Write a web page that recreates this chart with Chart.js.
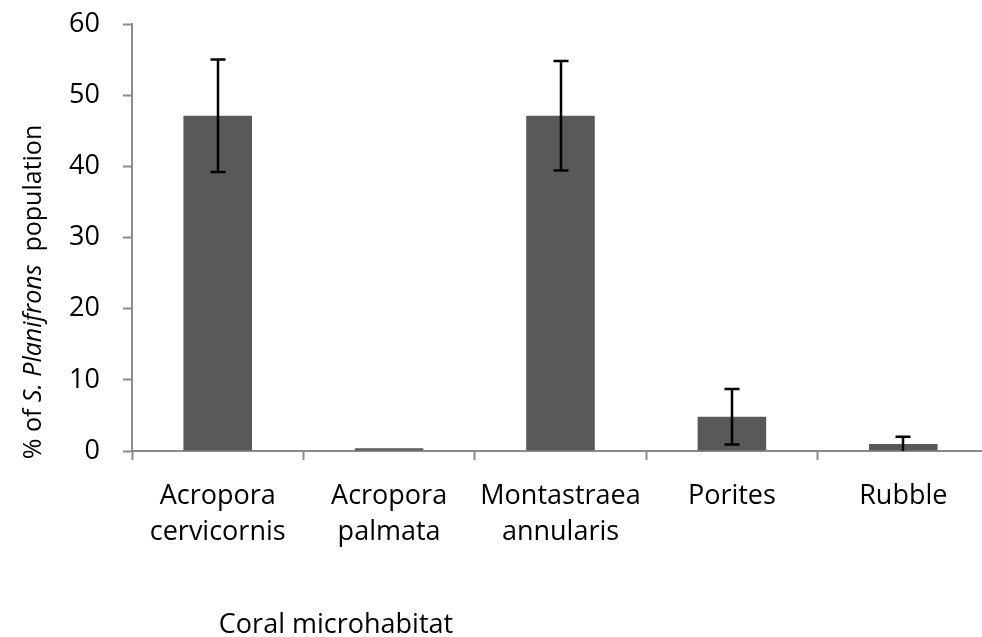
<!DOCTYPE html>
<html>
<head>
<meta charset="utf-8">
<title>Coral microhabitat</title>
<script src="https://cdn.jsdelivr.net/npm/chart.js@4.4.1/dist/chart.umd.min.js"></script>
<style>
  html, body { margin: 0; padding: 0; background: #fff; overflow: hidden; }
  canvas { display: block; }
</style>
</head>
<body>
<canvas id="barChart" width="1000" height="637"></canvas>
<script>
// Data
const categories = [
  ['Acropora', 'cervicornis'],
  ['Acropora', 'palmata'],
  ['Montastraea', 'annularis'],
  ['Porites'],
  ['Rubble']
];
const percentValues = [47.1, 0.4, 47.1, 4.8, 1.0];
const errorValues = [7.9, 0, 7.7, 3.9, 1.0];
const yTicks = [0, 10, 20, 30, 40, 50, 60];

const FONT = "'Open Sans', 'Liberation Sans', sans-serif";
const AXIS_GREY = '#8c8c8c';

// Error bars drawn on top of the bars
const errorBarPlugin = {
  id: 'errorBars',
  afterDatasetsDraw(chart) {
    const ctx = chart.ctx;
    const meta = chart.getDatasetMeta(0);
    const yScale = chart.scales.y;
    ctx.save();
    ctx.strokeStyle = '#000';
    ctx.lineWidth = 2.5;
    meta.data.forEach((bar, i) => {
      const err = errorValues[i];
      if (!err) return;
      const v = percentValues[i];
      const top = yScale.getPixelForValue(v + err);
      const bottom = yScale.getPixelForValue(Math.max(0, v - err));
      const x = Math.round(bar.x);
      const cap = 7.5;
      ctx.beginPath();
      ctx.moveTo(x, top);
      ctx.lineTo(x, bottom);
      ctx.moveTo(x - cap, top);
      ctx.lineTo(x + cap, top);
      if (v - err > 0) {
        ctx.moveTo(x - cap, bottom);
        ctx.lineTo(x + cap, bottom);
      }
      ctx.stroke();
    });
    ctx.restore();
  }
};

// Axis titles (y title has an italic part, x title sits left of centre)
const axisTitlePlugin = {
  id: 'axisTitles',
  afterDraw(chart) {
    const ctx = chart.ctx;
    ctx.save();
    ctx.fillStyle = '#000';
    ctx.textBaseline = 'alphabetic';

    const parts = [
      { text: '% of ', font: '25px ' + FONT },
      { text: 'S. Planifrons', font: 'italic 25px ' + FONT },
      { text: '  population', font: '25px ' + FONT }
    ];
    let total = 0;
    parts.forEach(p => { ctx.font = p.font; p.w = ctx.measureText(p.text).width; total += p.w; });
    ctx.translate(41, 292);
    ctx.rotate(-Math.PI / 2);
    ctx.textAlign = 'left';
    let x = -total / 2;
    parts.forEach(p => { ctx.font = p.font; ctx.fillText(p.text, x, 0); x += p.w; });
    ctx.restore();

    ctx.save();
    ctx.fillStyle = '#000';
    ctx.font = '27px ' + FONT;
    ctx.textAlign = 'center';
    ctx.textBaseline = 'alphabetic';
    ctx.fillText('Coral microhabitat', 336, 633);
    ctx.restore();
  }
};

const barCtx = document.getElementById('barChart').getContext('2d');
const barChart = new Chart(barCtx, {
  type: 'bar',
  data: {
    labels: categories,
    datasets: [{
      label: '% of S. Planifrons population',
      data: percentValues,
      backgroundColor: '#595959',
      borderWidth: 0,
      barPercentage: 0.4,
      categoryPercentage: 1.0
    }]
  },
  options: {
    responsive: false,
    animation: false,
    layout: {
      padding: { left: 0, top: 24, right: 11, bottom: 0 }
    },
    plugins: {
      legend: { display: false },
      title: { display: false },
      tooltip: { enabled: false }
    },
    scales: {
      x: {
        grid: {
          offset: true,
          drawOnChartArea: false,
          drawTicks: true,
          tickLength: 9,
          tickWidth: 2,
          color: AXIS_GREY
        },
        border: { color: AXIS_GREY, width: 2 },
        ticks: {
          color: '#000',
          padding: 18,
          maxRotation: 0,
          autoSkip: false,
          font: { family: FONT, size: 27, lineHeight: 1.35 }
        },
        afterFit(scale) { scale.height = 186; }
      },
      y: {
        min: 0,
        max: 60,
        afterBuildTicks(scale) { scale.ticks = yTicks.map(v => ({ value: v })); },
        grid: {
          drawOnChartArea: false,
          drawTicks: true,
          tickLength: 9,
          tickWidth: 2,
          color: AXIS_GREY
        },
        border: { color: AXIS_GREY, width: 2 },
        ticks: {
          color: '#000',
          padding: 23,
          font: { family: FONT, size: 27 }
        },
        afterFit(scale) {
          scale.width = 132;
          scale.paddingTop = 10;
          scale.paddingBottom = 10;
        }
      }
    }
  },
  plugins: [errorBarPlugin, axisTitlePlugin]
});
</script>
</body>
</html>
